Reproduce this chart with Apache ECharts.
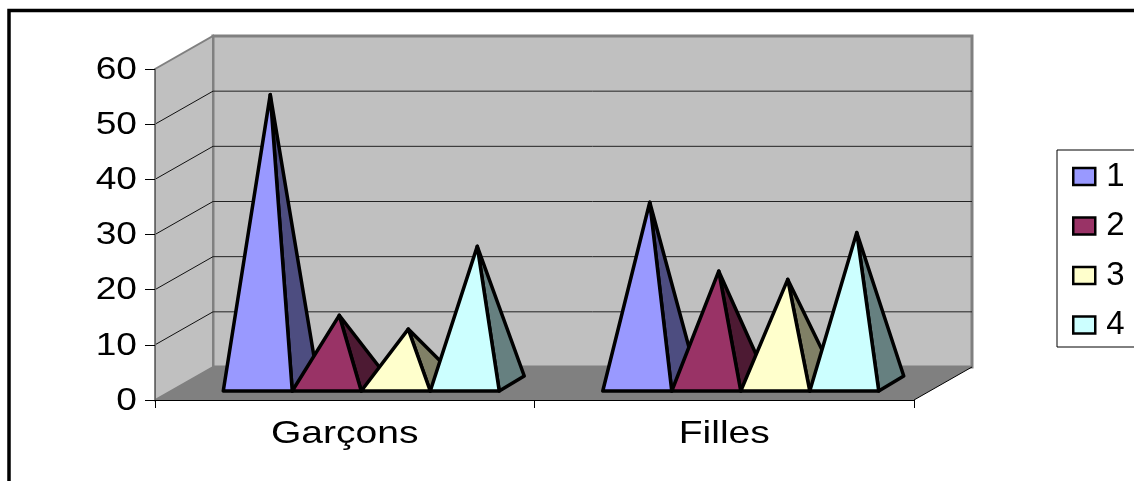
<!doctype html>
<html>
<head>
<meta charset="UTF-8">
<title>Garçons / Filles</title>
<script src="https://cdn.jsdelivr.net/npm/echarts@6/dist/echarts.min.js"></script>
<style>
  html, body { margin: 0; padding: 0; background: #fff; }
  #main { width: 1134px; height: 481px; }
</style>
</head>
<body>
<div id="main"></div>
<script>
var categories = ['Garçons', 'Filles'];
var seriesNames = ['1', '2', '3', '4'];
var yTicks = [0, 10, 20, 30, 40, 50, 60];
var values1 = [52, 32.5];
var values2 = [12, 20];
var values3 = [9.5, 18.5];
var values4 = [24.5, 27];
var frontColors = ['#9999FF', '#993366', '#FFFFCC', '#CCFFFF'];
var sideColors = ['#4D4D80', '#4D1A33', '#808066', '#668080'];

var font = 'Liberation Sans';
// decalage de la perspective, en pixels
var wallDx = 58, wallDy = 33;
var baseGapDx = 16.5, baseGapDy = 9;
var baseDepthDx = 25, baseDepthDy = 15;
var apexLift = 2;

function renderWalls(params, api) {
    var cs = params.coordSys;
    var left = cs.x, right = cs.x + cs.width;
    var y0 = api.coord([0, 0])[1];
    var yTop = api.coord([0, 60])[1];
    var kids = [];
    function poly(points, fill, stroke, width) {
        kids.push({
            type: 'polygon',
            shape: { points: points },
            style: { fill: fill, stroke: stroke, lineWidth: width }
        });
    }
    function line(x1, y1, x2, y2, color, width) {
        kids.push({
            type: 'line',
            shape: { x1: x1, y1: y1, x2: x2, y2: y2 },
            style: { stroke: color, lineWidth: width }
        });
    }
    // mur du fond, mur gauche, sol
    poly([[left + wallDx, yTop - wallDy], [right + wallDx, yTop - wallDy], [right + wallDx, y0 - wallDy], [left + wallDx, y0 - wallDy]], '#C0C0C0', '#808080', 3);
    poly([[left, yTop], [left + wallDx, yTop - wallDy], [left + wallDx, y0 - wallDy], [left, y0]], '#C0C0C0', '#808080', 2);
    poly([[left, y0], [left + wallDx, y0 - wallDy], [right + wallDx, y0 - wallDy], [right, y0]], '#808080', null, 0);
    yTicks.forEach(function (v) {
        if (v === 0 || v === 60) return;
        var y = api.coord([0, v])[1];
        line(left, y, left + wallDx, y - wallDy, '#111', 1);
        line(left + wallDx, y - wallDy, right + wallDx, y - wallDy, '#222', 1);
    });
    line(right, y0, right + wallDx, y0 - wallDy, '#000', 1);
    return { type: 'group', children: kids };
}

// texte etire en largeur, comme dans l'image d'origine
function stretchedText(text, x, y, align, scale) {
    return {
        type: 'text',
        x: x,
        y: y,
        scaleX: scale,
        style: {
            text: text,
            x: 0,
            y: 0,
            fill: '#000',
            font: '32px "' + font + '"',
            textAlign: align,
            textVerticalAlign: 'middle'
        }
    };
}

function renderLabels(params, api) {
    var kids = [];
    var cs = params.coordSys;
    yTicks.forEach(function (v) {
        kids.push(stretchedText(String(v), cs.x - 18, api.coord([0, v])[1] + 1, 'right', 1.16));
    });
    categories.forEach(function (name, i) {
        kids.push(stretchedText(name, api.coord([i, 0])[0], cs.y + cs.height + 34, 'center', 1.22));
    });
    return { type: 'group', children: kids };
}

function renderPyramid(serieIndex) {
    return function (params, api) {
        var cat = api.value(0);
        var band = api.size([1, 0])[0];
        var w = band / 5.5;
        var x0 = api.coord([cat, 0])[0] - band / 2 + 0.75 * w + baseGapDx + serieIndex * w;
        var x1 = x0 + w;
        var yFloor = api.coord([cat, 0])[1];
        var yBase = yFloor - baseGapDy;
        var apexX = (x0 + x1) / 2 + baseDepthDx / 2;
        var apexY = api.coord([cat, api.value(1)])[1] - baseGapDy - baseDepthDy / 2 - apexLift;
        var edge = { stroke: '#000', lineWidth: 3.5, lineJoin: 'round' };
        return {
            type: 'group',
            children: [
                {
                    type: 'polygon',
                    shape: { points: [[x1, yBase], [x1 + baseDepthDx, yBase - baseDepthDy], [apexX, apexY]] },
                    style: Object.assign({ fill: sideColors[serieIndex] }, edge)
                },
                {
                    type: 'polygon',
                    shape: { points: [[x0, yBase], [x1, yBase], [apexX, apexY]] },
                    style: Object.assign({ fill: frontColors[serieIndex] }, edge)
                }
            ]
        };
    };
}

function pyramidSeries(i, values) {
    return {
        type: 'custom',
        name: seriesNames[i],
        renderItem: renderPyramid(i),
        clip: false,
        z: 3,
        itemStyle: { color: frontColors[i] },
        encode: { x: 0, y: 1 },
        data: values.map(function (v, c) { return [c, v]; })
    };
}

var myChart = echarts.init(document.getElementById('main'), null, { renderer: 'canvas' });
myChart.setOption({
    animation: false,
    backgroundColor: '#fff',
    graphic: [{
        type: 'rect',
        shape: { x: 9, y: 10.5, width: 1300, height: 700 },
        style: { fill: 'none', stroke: '#000', lineWidth: 3.5 },
        silent: true
    }],
    grid: { left: 155, top: 69, width: 759, height: 331 },
    legend: {
        left: 1057,
        top: 150,
        orient: 'vertical',
        selectedMode: false,
        icon: 'rect',
        itemWidth: 22,
        itemHeight: 17,
        itemGap: 16.5,
        padding: [10, 30, 5.5, 15],
        borderColor: '#000',
        borderWidth: 1,
        itemStyle: { borderColor: '#000', borderWidth: 2.5 },
        textStyle: { fontFamily: font, fontSize: 33, color: '#000', padding: [0, 0, 0, 6] },
        data: seriesNames
    },
    xAxis: {
        type: 'category',
        data: categories,
        z: 4,
        axisLine: { show: true, onZero: false, lineStyle: { color: '#000', width: 1 } },
        axisTick: { show: true, length: 8, lineStyle: { color: '#000' } },
        axisLabel: { show: false },
        splitLine: { show: false }
    },
    yAxis: {
        type: 'value',
        min: 0,
        max: 60,
        interval: 10,
        z: 4,
        axisLine: { show: true, lineStyle: { color: '#666', width: 1 } },
        axisTick: { show: true, length: 10, lineStyle: { color: '#000' } },
        axisLabel: { show: false },
        splitLine: { show: false }
    },
    series: [
        {
            type: 'custom',
            name: 'walls',
            renderItem: renderWalls,
            clip: false,
            silent: true,
            z: 1,
            encode: { x: 0, y: 1 },
            data: [[0, 0]]
        },
        {
            type: 'custom',
            name: 'labels',
            renderItem: renderLabels,
            clip: false,
            silent: true,
            z: 5,
            encode: { x: 0, y: 1 },
            data: [[0, 0]]
        },
        pyramidSeries(0, values1),
        pyramidSeries(1, values2),
        pyramidSeries(2, values3),
        pyramidSeries(3, values4)
    ]
});
</script>
</body>
</html>
